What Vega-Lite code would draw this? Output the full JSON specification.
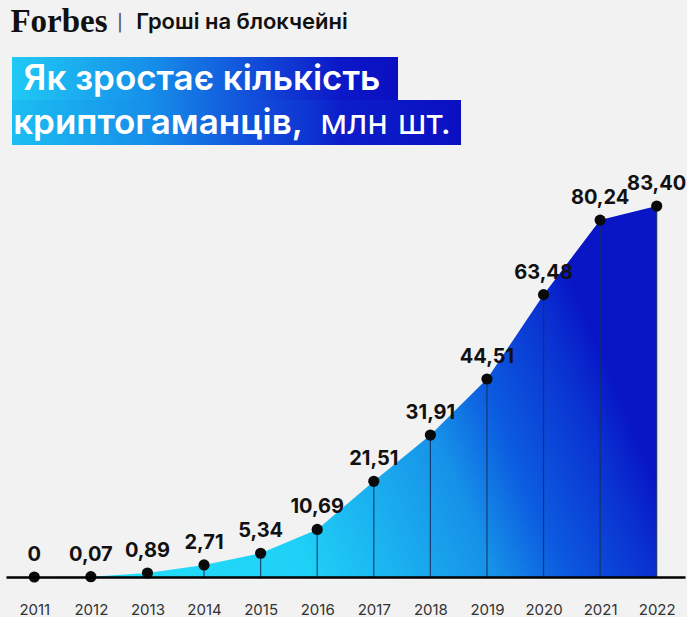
{
  "$schema": "https://vega.github.io/schema/vega-lite/v6.json",
  "background": "#f2f2f2",
  "padding": {"left": 6, "top": 0, "right": 0, "bottom": 0},
  "config": {"view": {"stroke": null}, "font": "Inter"},
  "spacing": 13,
  "vconcat": [
    {
      "spacing": 0,
      "hconcat": [
        {
          "width": 106, "height": 44,
          "data": {"values": [{"t": "Forbes"}]},
          "mark": {"type": "text", "font": "Liberation Serif", "fontWeight": "bold", "fontSize": 33, "fill": "#111111"},
          "encoding": {"text": {"field": "t"}}
        },
        {
          "width": 16, "height": 44,
          "data": {"values": [{"t": "|"}]},
          "mark": {"type": "text", "font": "DejaVu Sans", "fontWeight": "normal", "fontSize": 19, "fill": "#555555"},
          "encoding": {"text": {"field": "t"}}
        },
        {
          "width": 228, "height": 44,
          "data": {"values": [{"t": "Гроші на блокчейні"}]},
          "mark": {"type": "text", "font": "Inter", "fontWeight": 600, "fontSize": 22, "fill": "#111111"},
          "encoding": {"text": {"field": "t"}}
        }
      ]
    },
    {
      "spacing": 0,
      "vconcat": [
        {
          "width": 392, "height": 43,
          "view": {"stroke": null, "fill": {"gradient": "linear", "x1": 0, "y1": 0, "x2": 1, "y2": 0, "stops": [
            {"offset": 0, "color": "#f2f2f2"}, {"offset": 0.0152, "color": "#f2f2f2"}, {"offset": 0.0154, "color": "#20c9f5"},
            {"offset": 0.37, "color": "#168ee9"}, {"offset": 0.62, "color": "#1250da"}, {"offset": 0.85, "color": "#0c18c8"}, {"offset": 1, "color": "#0a10c2"}]}},
          "data": {"values": [{"t": "Як зростає кількість"}]},
          "mark": {"type": "text", "font": "Inter", "fontWeight": 600, "fontSize": 35, "fill": "#ffffff"},
          "encoding": {"text": {"field": "t"}}
        },
        {
          "spacing": 0,
          "hconcat": [
            {
              "width": 304, "height": 45,
              "view": {"stroke": null, "fill": {"gradient": "linear", "x1": 0, "y1": 0, "x2": 1, "y2": 0, "stops": [
                {"offset": 0, "color": "#f2f2f2"}, {"offset": 0.0195, "color": "#f2f2f2"}, {"offset": 0.0198, "color": "#1bbef2"},
                {"offset": 0.474, "color": "#168ee9"}, {"offset": 0.803, "color": "#1250da"}, {"offset": 1, "color": "#0e34d2"}]}},
              "data": {"values": [{"t": "криптогаманців,"}]},
              "mark": {"type": "text", "font": "Inter", "fontWeight": 600, "fontSize": 35, "fill": "#ffffff"},
              "encoding": {"text": {"field": "t"}}
            },
            {
              "width": 151, "height": 45,
              "view": {"stroke": null, "fill": {"gradient": "linear", "x1": 0, "y1": 0, "x2": 1, "y2": 0, "stops": [
                {"offset": 0, "color": "#0e34d2"}, {"offset": 0.2, "color": "#0c1ec9"}, {"offset": 1, "color": "#0a10c2"}]}},
              "data": {"values": [{"t": "млн шт."}]},
              "mark": {"type": "text", "font": "Inter", "fontWeight": 400, "fontSize": 35, "fill": "#ffffff"},
              "encoding": {"text": {"field": "t"}}
            }
          ]
        }
      ]
    },
    {
      "width": 679, "height": 419,
      "data": {"values": [
        {"year": "2011", "v": 0, "label": "0"},
        {"year": "2012", "v": 0.07, "label": "0,07"},
        {"year": "2013", "v": 0.89, "label": "0,89"},
        {"year": "2014", "v": 2.71, "label": "2,71"},
        {"year": "2015", "v": 5.34, "label": "5,34"},
        {"year": "2016", "v": 10.69, "label": "10,69"},
        {"year": "2017", "v": 21.51, "label": "21,51"},
        {"year": "2018", "v": 31.91, "label": "31,91"},
        {"year": "2019", "v": 44.51, "label": "44,51"},
        {"year": "2020", "v": 63.48, "label": "63,48"},
        {"year": "2021", "v": 80.24, "label": "80,24"},
        {"year": "2022", "v": 83.40, "label": "83,40"}
      ]},
      "encoding": {
        "x": {"field": "year", "type": "ordinal", "scale": {"type": "point", "padding": 0.5},
          "axis": {"title": null, "labelAngle": 0, "ticks": false, "grid": false, "domain": true, "domainColor": "#000000", "domainWidth": 2.5,
            "labelFont": "Inter", "labelFontSize": 15, "labelColor": "#333333", "labelPadding": 25, "zindex": 1}},
        "y": {"field": "v", "type": "quantitative", "scale": {"domain": [0, 94.2], "nice": false, "zero": true}, "axis": null}
      },
      "layer": [
        {"mark": {"type": "area", "interpolate": "linear", "color": {"gradient": "linear", "x1": 0, "y1": 1, "x2": 1, "y2": 0.75, "stops": [
          {"offset": 0, "color": "#25e4fb"}, {"offset": 0.42, "color": "#1fd0f6"}, {"offset": 0.55, "color": "#1bb2f0"},
          {"offset": 0.7, "color": "#1690e8"}, {"offset": 0.8, "color": "#0c5ce0"}, {"offset": 0.94, "color": "#0a30d0"}, {"offset": 1, "color": "#0816c6"}]}}},
        {"mark": {"type": "rule", "color": "#16305e", "strokeWidth": 1.2, "opacity": 0.85}, "encoding": {"y2": {"datum": 0}}},
        {"mark": {"type": "point", "filled": true, "size": 125, "color": "#0a0a0a", "opacity": 1}},
        {"mark": {"type": "text", "font": "Inter", "fontWeight": "bold", "fontSize": 20, "fill": "#111111", "dy": -16, "baseline": "alphabetic"},
          "encoding": {"text": {"field": "label"}}}
      ]
    }
  ]
}
